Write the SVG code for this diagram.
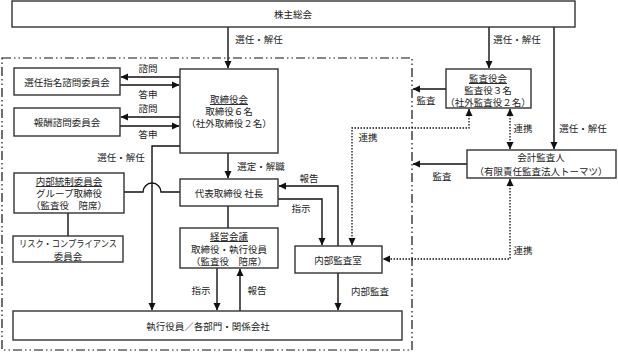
<svg xmlns="http://www.w3.org/2000/svg" width="618" height="352" viewBox="0 0 618 352">
<defs>
<marker id="ah" markerUnits="userSpaceOnUse" markerWidth="8" markerHeight="8" refX="7" refY="4" orient="auto-start-reverse">
<path d="M0,0.5 L7.5,4 L0,7.5 z" fill="#111"/>
</marker>
</defs>
<style>
rect.n{fill:#fff;stroke:#333;stroke-width:1.4}
text{font-family:"Noto Sans CJK JP","Noto Sans CJK SC",sans-serif;font-size:9.5px;fill:#222;text-anchor:middle;dominant-baseline:central}
.l{fill:none;stroke:#111;stroke-width:1.4}
.a{marker-end:url(#ah)}
.d{fill:none;stroke:#111;stroke-width:1.3;stroke-dasharray:1.5 1.5}
.u{text-decoration:underline}
</style>
<rect x="2" y="58" width="410" height="292" fill="none" stroke="#111" stroke-width="1.2" stroke-dasharray="9 3 1.5 3 1.5 3"/>
<g id="connectors">
<path class="l a" d="M228,27 V68"/>
<path class="l a" d="M180,77 H121"/>
<path class="l a" d="M120,85 H179"/>
<path class="l a" d="M180,117 H121"/>
<path class="l a" d="M120,126 H179"/>
<path class="l a" d="M180,146 H152 V310"/>
<path class="l a" d="M228,153 V178"/>
<path class="l" d="M124,192 H143 A9,9 0 0 1 161,192 H180"/>
<path class="l" d="M68,213 V236"/>
<path class="l" d="M228,206 V228"/>
<path class="l a" d="M217,268 V310"/>
<path class="l a" d="M240,311 V269"/>
<path class="l a" d="M338,246 V186 H279"/>
<path class="l a" d="M278,199 H322 V245"/>
<path class="l a" d="M338,273 V310"/>
<path class="l a" d="M489,27 V68"/>
<path class="l a" d="M554,27 V149"/>
<path class="l a" d="M446,89 H413"/>
<path class="l a" d="M467,164 H413"/>
<path class="d" d="M510,109 V149" marker-start="url(#ah)" marker-end="url(#ah)"/>
<path class="d" d="M469,109 V128 H352 V245" marker-start="url(#ah)" marker-end="url(#ah)"/>
<path class="d" d="M510,179 V259 H383" marker-start="url(#ah)" marker-end="url(#ah)"/>
<text x="259" y="39">選任・解任</text>
<text x="148" y="68">諮問</text>
<text x="148" y="94">答申</text>
<text x="148" y="108">諮問</text>
<text x="148" y="134">答申</text>
<text x="121" y="157">選任・解任</text>
<text x="261" y="166">選定・解職</text>
<text x="201" y="290">指示</text>
<text x="257" y="290">報告</text>
<text x="309" y="178">報告</text>
<text x="301" y="208">指示</text>
<text x="370" y="291">内部監査</text>
<text x="517" y="39">選任・解任</text>
<text x="583" y="128">選任・解任</text>
<text x="426" y="100">監査</text>
<text x="442" y="176">監査</text>
<text x="523" y="128">連携</text>
<text x="368" y="137">連携</text>
<text x="523" y="250">連携</text>
</g>
<g id="shareholders"><rect class="n" x="12" y="1" width="563" height="26"/><text x="293" y="14">株主総会</text></g>
<g id="board"><rect class="n" x="180" y="69" width="98" height="84"/><text class="u" x="229" y="99">取締役会</text><text x="229" y="111">取締役６名</text><text x="229" y="123">（社外取締役２名）</text></g>
<g id="nomination"><rect class="n" x="14" y="68" width="106" height="27"/><text x="67" y="81.5">選任指名諮問委員会</text></g>
<g id="remuneration"><rect class="n" x="14" y="108" width="106" height="28"/><text x="67" y="122">報酬諮問委員会</text></g>
<g id="president"><rect class="n" x="180" y="179" width="98" height="27"/><text x="229" y="192.5">代表取締役 社長</text></g>
<g id="internal-control"><rect class="n" x="14" y="173" width="110" height="40"/><text class="u" x="69" y="181">内部統制委員会</text><text x="69" y="193">グループ取締役</text><text x="69" y="205">（監査役　陪席）</text></g>
<g id="risk"><rect class="n" x="13" y="236" width="110" height="26"/><text x="68" y="243" textLength="98" lengthAdjust="spacingAndGlyphs">リスク・コンプライアンス</text><text x="68" y="256">委員会</text></g>
<g id="management"><rect class="n" x="180" y="228" width="98" height="40"/><text class="u" x="229" y="236">経営会議</text><text x="229" y="248.5">取締役・執行役員</text><text x="229" y="261">（監査役　陪席）</text></g>
<g id="executives"><rect class="n" x="13" y="311" width="389" height="29"/><text x="208" y="326">執行役員／各部門・関係会社</text></g>
<g id="internal-audit"><rect class="n" x="295" y="246" width="87" height="27"/><text x="338" y="259.5">内部監査室</text></g>
<g id="auditors"><rect class="n" x="446" y="69" width="85" height="39"/><text class="u" x="488" y="78">監査役会</text><text x="488" y="90">監査役３名</text><text x="488" y="102">（社外監査役２名）</text></g>
<g id="accounting-auditor"><rect class="n" x="467" y="150" width="149" height="28"/><text x="541" y="157">会計監査人</text><text x="541" y="171">（有限責任監査法人トーマツ）</text></g>
</svg>
